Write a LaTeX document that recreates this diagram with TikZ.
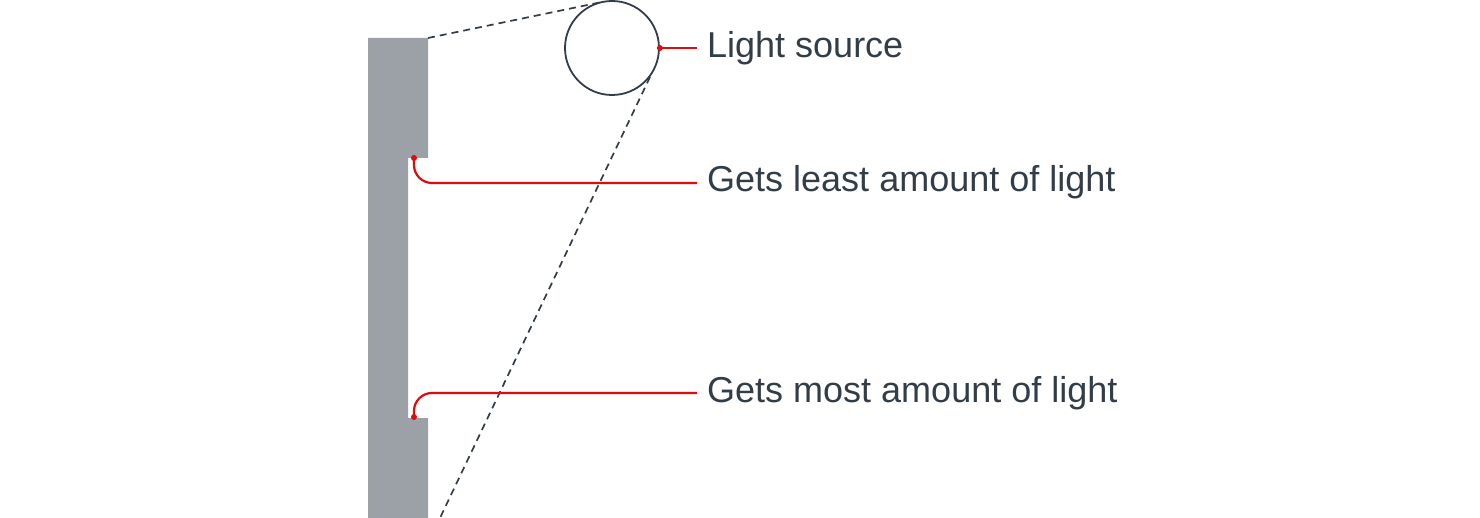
\documentclass[tikz,border=0pt]{standalone}
\usepackage{fontspec}
\setmainfont{Liberation Sans}
\definecolor{wallgray}{HTML}{9CA0A7}
\definecolor{ink}{HTML}{333D48}
\definecolor{lred}{HTML}{E00B0B}
\begin{document}
\begin{tikzpicture}[x=1pt,y=-1pt,
  wall/.style={fill=wallgray,draw=none},
  ray/.style={draw=ink,line width=1.7pt,dash pattern=on 7pt off 5pt},
  leader/.style={draw=lred,line width=2.2pt,rounded corners=18pt},
  dotmark/.style={circle,fill=lred,inner sep=0pt,minimum size=6pt},
  lbl/.style={anchor=base west,inner sep=0pt,text=ink,font=\fontsize{36}{42}\selectfont}]
\useasboundingbox (0,0) rectangle (1480,518);
% wall
\fill[wallgray] (368,38) -- (428,38) -- (428,158) -- (408,158) -- (408,418) -- (428,418) -- (428,518) -- (368,518) -- cycle;
% light source
\node[circle,draw=ink,line width=1.8pt,minimum size=94pt,inner sep=0pt] (src) at (612,48) {};
% rays
\coordinate (wallc) at (428,38);
\coordinate (tan1) at (602,2);
\coordinate (tan2) at (650,77);
\coordinate (rayend) at (440,518);
\draw[ray] (wallc) -- (tan1);
\draw[ray] (tan2) -- (rayend);
% labels
\node[lbl] (l1) at (707,58) {Light source};
\node[lbl] (l2) at (707,192) {Gets least amount of light};
\node[lbl] (l3) at (707,402) {Gets most amount of light};
% leaders
\node[dotmark] (d1) at (src.east) {};
\node[dotmark] (d2) at (414,158) {};
\node[dotmark] (d3) at (414,417) {};
\coordinate (e1) at (697,48);
\coordinate (e2) at (697,183);
\coordinate (e3) at (697,393);
\draw[leader] (d1.center) -- (e1);
\draw[leader] (d2.center) |- (e2);
\draw[leader] (d3.center) |- (e3);
\end{tikzpicture}
\end{document}
